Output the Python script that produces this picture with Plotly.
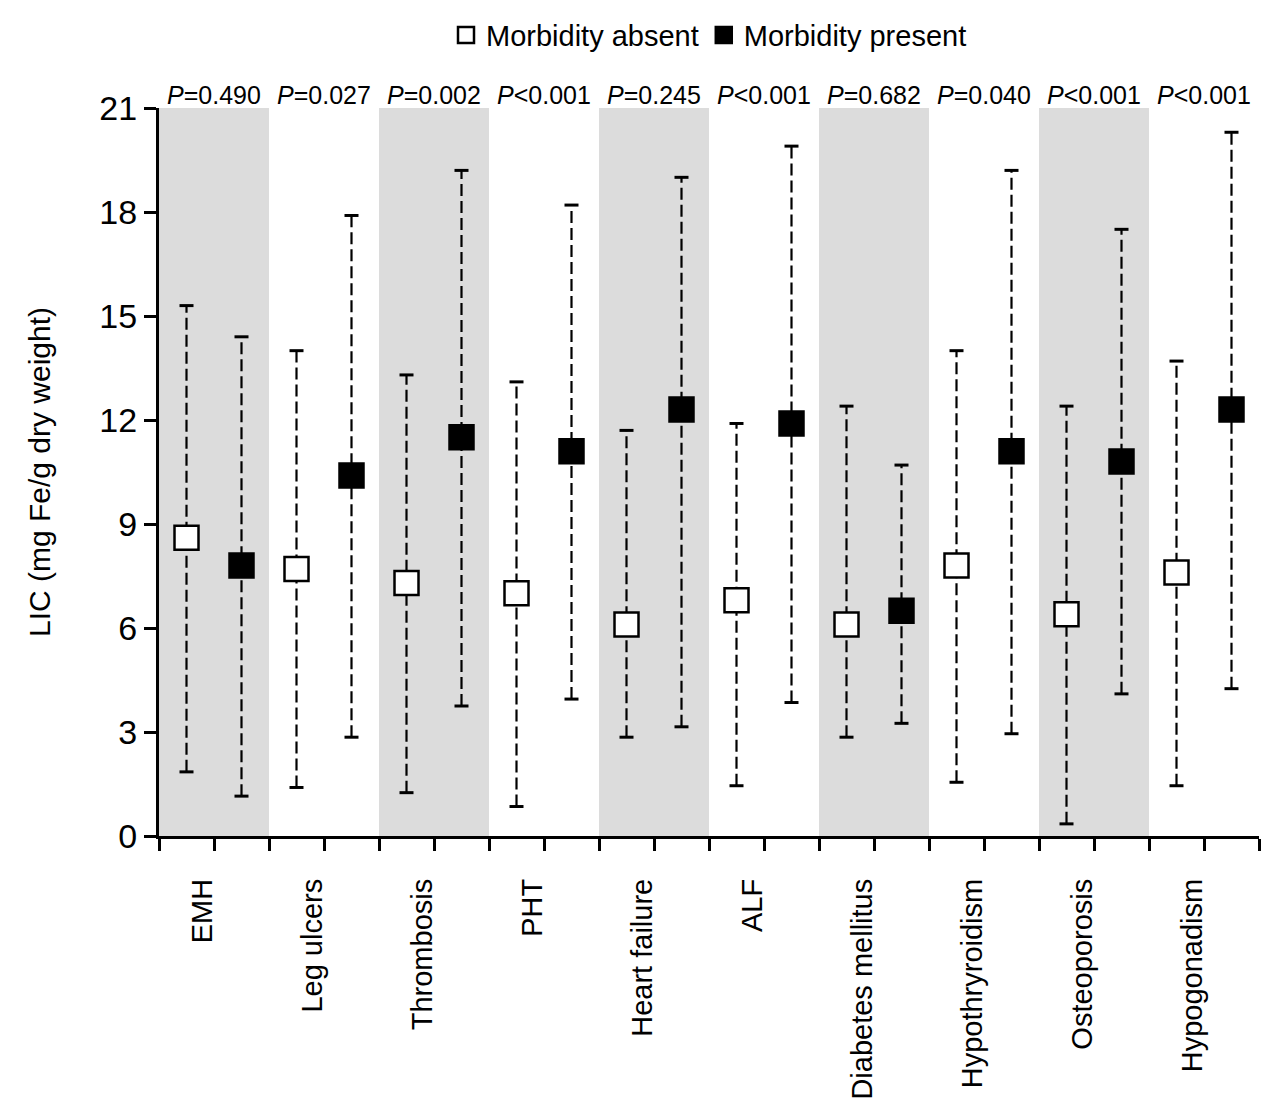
import plotly.graph_objects as go

categories = ["EMH", "Leg ulcers", "Thrombosis", "PHT", "Heart failure", "ALF",
              "Diabetes mellitus", "Hypothryroidism", "Osteoporosis", "Hypogonadism"]
p_values = ["=0.490", "=0.027", "=0.002", "<0.001", "=0.245", "<0.001",
            "=0.682", "=0.040", "<0.001", "<0.001"]

absent_mean = [8.6, 7.7, 7.3, 7.0, 6.1, 6.8, 6.1, 7.8, 6.4, 7.6]
absent_low = [1.85, 1.4, 1.25, 0.85, 2.85, 1.45, 2.85, 1.55, 0.35, 1.45]
absent_high = [15.3, 14.0, 13.3, 13.1, 11.7, 11.9, 12.4, 14.0, 12.4, 13.7]

present_mean = [7.8, 10.4, 11.5, 11.1, 12.3, 11.9, 6.5, 11.1, 10.8, 12.3]
present_low = [1.15, 2.85, 3.75, 3.95, 3.15, 3.85, 3.25, 2.95, 4.1, 4.25]
present_high = [14.4, 17.9, 19.2, 18.2, 19.0, 19.9, 10.7, 19.2, 17.5, 20.3]

y_ticks = [0, 3, 6, 9, 12, 15, 18, 21]

FONT = "Liberation Sans, Arial, sans-serif"

n = len(categories)
x_absent = [2 * i + 0.5 for i in range(n)]
x_present = [2 * i + 1.5 for i in range(n)]

fig = go.Figure()

# shaded bands for alternating categories
for i in range(0, n, 2):
    fig.add_shape(type="rect", xref="x", yref="y", x0=2 * i, x1=2 * i + 2,
                  y0=0, y1=21, fillcolor="#dcdcdc", line_width=0, layer="below")


def add_series(xs, mean, low, high, fill, name):
    lx, ly = [], []
    for x, lo, hi in zip(xs, low, high):
        lx += [x, x, None]
        ly += [lo, hi, None]
    fig.add_trace(go.Scatter(x=lx, y=ly, mode="lines", showlegend=False,
                             line=dict(color="black", width=2.2, dash="12px,5px"),
                             hoverinfo="skip"))
    fig.add_trace(go.Scatter(x=xs + xs, y=list(low) + list(high), mode="markers",
                             showlegend=False, hoverinfo="skip",
                             marker=dict(symbol="line-ew-open", size=10, color="black",
                                         line=dict(color="black", width=3))))
    fig.add_trace(go.Scatter(x=xs, y=mean, mode="markers", name=name,
                             marker=dict(symbol="square", size=24, color=fill,
                                         line=dict(color="black", width=2.5))))


add_series(x_absent, absent_mean, absent_low, absent_high, "white", "Morbidity absent")
add_series(x_present, present_mean, present_low, present_high, "black", "Morbidity present")

# P-value labels
for i, p in enumerate(p_values):
    fig.add_annotation(x=2 * i + 1, y=21, xref="x", yref="y", text="<i>P</i>" + p,
                       showarrow=False, yanchor="middle", yshift=13,
                       font=dict(family=FONT, size=25, color="black"))

# category labels axis
fig.add_trace(go.Scatter(x=[0, 20], y=[None, None], xaxis="x2", showlegend=False,
                         hoverinfo="skip"))

fig.update_layout(
    width=1272, height=1106,
    margin=dict(l=151, r=21, t=100, b=278, autoexpand=False),
    paper_bgcolor="white", plot_bgcolor="white",
    showlegend=True,
    legend=dict(orientation="h", x=0.5, xanchor="center", y=1.1, yanchor="middle",
                font=dict(family=FONT, size=29, color="black"),
                itemsizing="trace", bgcolor="rgba(0,0,0,0)"),
    xaxis=dict(range=[0, 20], tickvals=list(range(0, 21)), showticklabels=False,
               ticks="outside", ticklen=12, tickwidth=3, tickcolor="black",
               showline=True, linewidth=3, linecolor="black",
               showgrid=False, zeroline=False),
    xaxis2=dict(range=[0, 20], overlaying="x", anchor="y", side="bottom",
                tickvals=[2 * i + 0.8 for i in range(n)], ticktext=categories,
                tickangle=-90, ticks="", showline=False, showgrid=False,
                zeroline=False, ticklabelstandoff=36,
                tickfont=dict(family=FONT, size=29, color="black")),
    yaxis=dict(range=[0, 21], tickvals=y_ticks, ticks="outside", ticklen=12,
               tickwidth=3, tickcolor="black", showline=True, linewidth=3,
               linecolor="black", showgrid=False, zeroline=False,
               tickfont=dict(family=FONT, size=34, color="black"),
               title=dict(text="LIC (mg Fe/g dry weight)", standoff=40,
                          font=dict(family=FONT, size=30, color="black"))),
)

fig.write_html("out.html")
